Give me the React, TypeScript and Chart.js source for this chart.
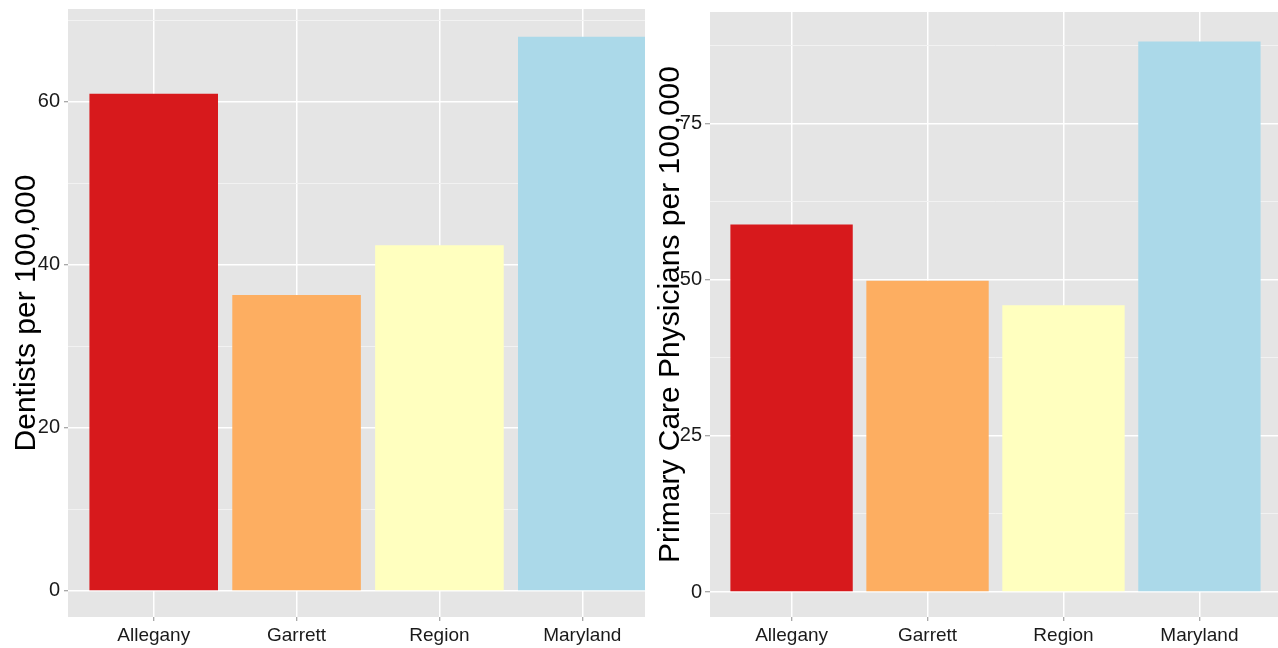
import React, { useEffect, useRef } from 'react';
import { Chart, registerables } from 'chart.js';

Chart.register(...registerables);

const categories = ['Allegany', 'Garrett', 'Region', 'Maryland'];
const dentists = [61, 36.3, 42.4, 68];
const physicians = [58.8, 49.8, 45.9, 88.1];
const barColors = ['#D7191C', '#FDAE61', '#FFFFBF', '#ABD9E9'];
const dentistMajor = [0, 20, 40, 60];
const dentistMinor = [10, 30, 50, 70];
const physicianMajor = [0, 25, 50, 75];
const physicianMinor = [12.5, 37.5, 62.5, 87.5];

const FONT = '"Liberation Sans", Arial, sans-serif';

type Spec = {
  values: number[];
  yMin: number;
  yMax: number;
  major: number[];
  minor: number[];
  title: string;
  titleX: number;
  axisWidth: number;
  padTop: number;
  tickLen: number;
  tickPad: number;
};

function makeConfig(s: Spec): any {
  const titlePlugin = {
    id: 'yTitle',
    afterDraw(chart: any) {
      const { ctx, chartArea } = chart;
      ctx.save();
      ctx.translate(s.titleX, (chartArea.top + chartArea.bottom) / 2);
      ctx.rotate(-Math.PI / 2);
      ctx.textAlign = 'center';
      ctx.textBaseline = 'alphabetic';
      ctx.font = `30px ${FONT}`;
      ctx.fillStyle = '#000000';
      ctx.fillText(s.title, 0, 0);
      ctx.restore();
    },
  };
  const panelPlugin = {
    id: 'panelBg',
    beforeDraw(chart: any) {
      const { ctx, chartArea } = chart;
      ctx.save();
      ctx.fillStyle = '#E5E5E5';
      ctx.fillRect(chartArea.left, chartArea.top, chartArea.right - chartArea.left, chartArea.bottom - chartArea.top);
      ctx.restore();
    },
  };
  const allY = [...s.major, ...s.minor].sort((a, b) => a - b);
  return {
    type: 'bar',
    data: {
      datasets: [
        {
          data: categories.map((c, i) => ({ x: i + 1, y: s.values[i] })),
          backgroundColor: barColors,
          borderWidth: 0,
          barPercentage: 0.9,
          categoryPercentage: 1,
        },
      ],
    },
    options: {
      responsive: false,
      animation: false,
      devicePixelRatio: 1,
      layout: { padding: { top: s.padTop, left: 0, right: 0, bottom: 0 } },
      plugins: { legend: { display: false }, tooltip: { enabled: false }, title: { display: false } },
      scales: {
        x: {
          type: 'linear',
          min: 0.4,
          max: 4.6,
          offset: false,
          afterBuildTicks: (scale: any) => {
            scale.ticks = categories.map((_, i) => ({ value: i + 1 }));
          },
          afterFit: (scale: any) => {
            scale.height = 31;
            scale.paddingLeft = 0;
            scale.paddingRight = 0;
          },
          border: { display: false },
          grid: {
            color: '#FFFFFF',
            lineWidth: 1.5,
            tickColor: '#8C8C8C',
            tickLength: 4,
            tickWidth: 1,
            offset: false,
          },
          ticks: {
            autoSkip: false,
            maxRotation: 0,
            padding: 3,
            color: '#1A1A1A',
            font: { family: FONT, size: 19 },
            callback: (v: any) => categories[Math.round(v) - 1] ?? '',
          },
        },
        y: {
          type: 'linear',
          min: s.yMin,
          max: s.yMax,
          afterBuildTicks: (scale: any) => {
            scale.ticks = allY.map((v) => ({ value: v }));
          },
          afterFit: (scale: any) => {
            scale.width = s.axisWidth;
            scale.paddingTop = 0;
            scale.paddingBottom = 0;
          },
          border: { display: false },
          grid: {
            color: (ctx: any) => (ctx.tick && s.major.includes(ctx.tick.value) ? '#FFFFFF' : '#F2F2F2'),
            lineWidth: (ctx: any) => (ctx.tick && s.major.includes(ctx.tick.value) ? 1.5 : 1),
            tickColor: (ctx: any) => (ctx.tick && s.major.includes(ctx.tick.value) ? '#8C8C8C' : 'rgba(0,0,0,0)'),
            tickLength: s.tickLen,
            tickWidth: 1,
          },
          ticks: {
            autoSkip: false,
            padding: s.tickPad,
            color: '#1A1A1A',
            font: { family: FONT, size: 20 },
            callback: (v: any) => (s.major.includes(v) ? String(v) : ''),
          },
        },
      },
    },
    plugins: [panelPlugin, titlePlugin],
  };
}

function BarPanel(props: { spec: Spec; width: number; height: number }) {
  const ref = useRef<HTMLCanvasElement | null>(null);
  useEffect(() => {
    if (!ref.current) return;
    const chart = new Chart(ref.current, makeConfig(props.spec));
    return () => chart.destroy();
  }, []);
  return <canvas ref={ref} width={props.width} height={props.height} style={{ display: 'block' }} />;
}

export default function App() {
  const left: Spec = {
    values: dentists,
    yMin: -3.2,
    yMax: 71.4,
    major: dentistMajor,
    minor: dentistMinor,
    title: 'Dentists per 100,000',
    titleX: 35,
    axisWidth: 68,
    padTop: 9,
    tickLen: 4,
    tickPad: 4,
  };
  const right: Spec = {
    values: physicians,
    yMin: -4.0,
    yMax: 92.8,
    major: physicianMajor,
    minor: physicianMinor,
    title: 'Primary Care Physicians per 100,000',
    titleX: 34,
    axisWidth: 65,
    padTop: 12,
    tickLen: 5,
    tickPad: 3,
  };
  return (
    <div style={{ position: 'absolute', left: 0, top: 0, width: 1278, height: 648, overflow: 'hidden', background: '#FFFFFF' }}>
      <div style={{ position: 'absolute', left: 0, top: 0, width: 645, height: 648, overflow: 'hidden' }}>
        <BarPanel spec={left} width={668} height={648} />
      </div>
      <div style={{ position: 'absolute', left: 645, top: 0, width: 636, height: 648 }}>
        <BarPanel spec={right} width={636} height={648} />
      </div>
    </div>
  );
}
